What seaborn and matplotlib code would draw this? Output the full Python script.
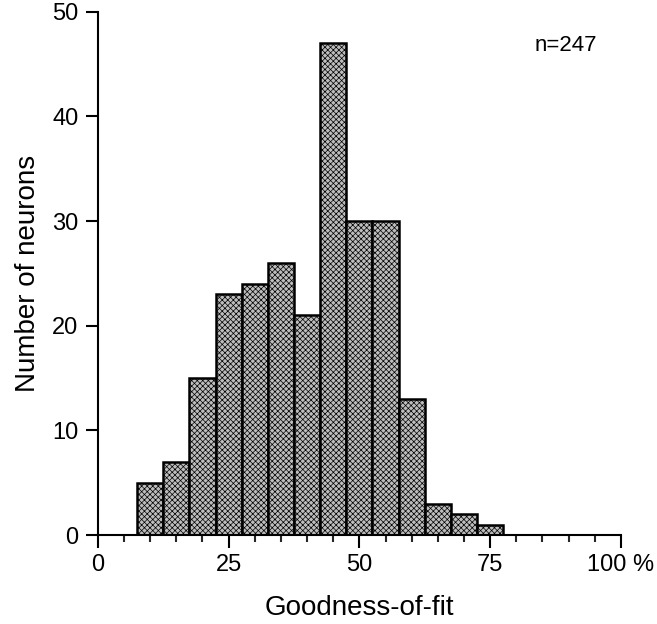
import numpy as np
import pandas as pd
import matplotlib
matplotlib.use("Agg")
import matplotlib.pyplot as plt
import seaborn as sns

# histogram counts (bins 5 % wide, 7.5 .. 77.5)
bin_centers = [10, 15, 20, 25, 30, 35, 40, 45, 50, 55, 60, 65, 70, 75]
neuron_counts = [5, 7, 15, 23, 24, 26, 21, 47, 30, 30, 13, 3, 2, 1]
bin_edges = [7.5 + 5 * i for i in range(len(bin_centers) + 1)]

x_major = [0, 25, 50, 75, 100]
x_major_labels = ["0", "25", "50", "75", "100 %"]
y_ticks = [0, 10, 20, 30, 40, 50]

sns.set_style("ticks")
plt.rcParams["font.family"] = ["Liberation Sans", "DejaVu Sans"]
plt.rcParams["hatch.linewidth"] = 0.5
plt.rcParams["text.color"] = "black"
plt.rcParams["axes.labelcolor"] = "black"

df = pd.DataFrame({"fit": bin_centers, "n": neuron_counts})

fig = plt.figure(figsize=(6.57, 6.24), dpi=100)
ax = fig.add_axes([0.149, 0.1426, 0.796, 0.8384])

sns.histplot(data=df, x="fit", weights="n", bins=bin_edges, ax=ax,
             color="#bdbdbd", edgecolor="black", linewidth=1.8, alpha=1)
for p in ax.patches:
    p.set_hatch("xxxxxx")

ax.set_xlim(0, 100)
ax.set_ylim(0, 50)
ax.set_xticks(x_major)
ax.set_xticklabels(x_major_labels)
ax.set_xticks(np.arange(0, 101, 5), minor=True)
ax.set_yticks(y_ticks)

ax.tick_params(axis="both", which="major", length=9, width=1.5,
               labelsize=17, colors="black", pad=5)
ax.tick_params(axis="x", which="minor", length=5, width=1.5)
ax.tick_params(axis="y", which="minor", length=0)

for s in ["top", "right"]:
    ax.spines[s].set_visible(False)
for s in ["left", "bottom"]:
    ax.spines[s].set_linewidth(1.5)
    ax.spines[s].set_color("black")

ax.set_xlabel("Goodness-of-fit", fontsize=20, labelpad=13)
ax.set_ylabel("Number of neurons", fontsize=20, labelpad=8)

ax.text(83.5, 46.8, "n=247", fontsize=16, va="center", ha="left")

fig.savefig("out.png", dpi=100)
